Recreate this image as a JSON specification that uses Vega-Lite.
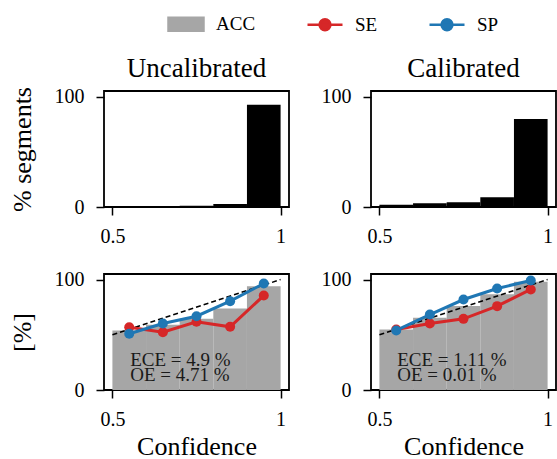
{
  "$schema": "https://vega.github.io/schema/vega-lite/v6.json",
  "padding": {"left": 8, "top": 5, "right": 0, "bottom": 0},
  "datasets": {
    "hist": [
      {"panel": "Uncalibrated", "x": 0.5, "x2": 0.6, "y": 0.7},
      {"panel": "Uncalibrated", "x": 0.6, "x2": 0.7, "y": 0.9},
      {"panel": "Uncalibrated", "x": 0.7, "x2": 0.8, "y": 1.1},
      {"panel": "Uncalibrated", "x": 0.8, "x2": 0.9, "y": 2.7},
      {"panel": "Uncalibrated", "x": 0.9, "x2": 1.0, "y": 92.6},
      {"panel": "Calibrated", "x": 0.5, "x2": 0.6, "y": 2.1},
      {"panel": "Calibrated", "x": 0.6, "x2": 0.7, "y": 3.3},
      {"panel": "Calibrated", "x": 0.7, "x2": 0.8, "y": 4.2},
      {"panel": "Calibrated", "x": 0.8, "x2": 0.9, "y": 8.8},
      {"panel": "Calibrated", "x": 0.9, "x2": 1.0, "y": 79.7}
    ],
    "acc": [
      {"panel": "Uncalibrated", "series": "ACC", "x": 0.5, "x2": 0.6, "y": 53.9},
      {"panel": "Uncalibrated", "series": "ACC", "x": 0.6, "x2": 0.7, "y": 59.0},
      {"panel": "Uncalibrated", "series": "ACC", "x": 0.7, "x2": 0.8, "y": 64.4},
      {"panel": "Uncalibrated", "series": "ACC", "x": 0.8, "x2": 0.9, "y": 73.8},
      {"panel": "Uncalibrated", "series": "ACC", "x": 0.9, "x2": 1.0, "y": 94.0},
      {"panel": "Calibrated", "series": "ACC", "x": 0.5, "x2": 0.6, "y": 54.7},
      {"panel": "Calibrated", "series": "ACC", "x": 0.6, "x2": 0.7, "y": 65.3},
      {"panel": "Calibrated", "series": "ACC", "x": 0.7, "x2": 0.8, "y": 76.0},
      {"panel": "Calibrated", "series": "ACC", "x": 0.8, "x2": 0.9, "y": 86.6},
      {"panel": "Calibrated", "series": "ACC", "x": 0.9, "x2": 1.0, "y": 98.0}
    ],
    "rel": [
      {"panel": "Uncalibrated", "series": "SE", "x": 0.55, "y": 56.8},
      {"panel": "Uncalibrated", "series": "SE", "x": 0.65, "y": 52.3},
      {"panel": "Uncalibrated", "series": "SE", "x": 0.75, "y": 61.7},
      {"panel": "Uncalibrated", "series": "SE", "x": 0.85, "y": 57.2},
      {"panel": "Uncalibrated", "series": "SE", "x": 0.95, "y": 85.5},
      {"panel": "Uncalibrated", "series": "SP", "x": 0.55, "y": 50.9},
      {"panel": "Uncalibrated", "series": "SP", "x": 0.65, "y": 60.2},
      {"panel": "Uncalibrated", "series": "SP", "x": 0.75, "y": 66.8},
      {"panel": "Uncalibrated", "series": "SP", "x": 0.85, "y": 80.4},
      {"panel": "Uncalibrated", "series": "SP", "x": 0.95, "y": 96.4},
      {"panel": "Calibrated", "series": "SE", "x": 0.55, "y": 54.8},
      {"panel": "Calibrated", "series": "SE", "x": 0.65, "y": 60.2},
      {"panel": "Calibrated", "series": "SE", "x": 0.75, "y": 64.4},
      {"panel": "Calibrated", "series": "SE", "x": 0.85, "y": 75.9},
      {"panel": "Calibrated", "series": "SE", "x": 0.95, "y": 91.0},
      {"panel": "Calibrated", "series": "SP", "x": 0.55, "y": 53.9},
      {"panel": "Calibrated", "series": "SP", "x": 0.65, "y": 68.3},
      {"panel": "Calibrated", "series": "SP", "x": 0.75, "y": 81.9},
      {"panel": "Calibrated", "series": "SP", "x": 0.85, "y": 91.9},
      {"panel": "Calibrated", "series": "SP", "x": 0.95, "y": 99.1}
    ],
    "diag": [
      {"x": 0.5, "y": 50},
      {"x": 1.0, "y": 100}
    ],
    "notes": [
      {"panel": "Uncalibrated", "x": 0.553, "y": 21.5, "text": ["ECE = 4.9 %", "OE = 4.71 %"]},
      {"panel": "Calibrated", "x": 0.553, "y": 21.5, "text": ["ECE = 1.11 %", "OE = 0.01 %"]}
    ]
  },
  "columns": 2,
  "spacing": {"row": 21, "column": 30},
  "resolve": {"scale": {"color": "shared"}, "legend": {"color": "shared"}},
  "concat": [
    {
      "width": 185, "height": 116,
      "title": "Uncalibrated",
      "data": {"name": "hist"},
      "transform": [{"filter": "datum.panel === 'Uncalibrated'"}],
      "mark": {"type": "bar", "color": "black"},
      "encoding": {
        "x": {"field": "x", "type": "quantitative", "scale": {"domain": [0.475, 1.025], "nice": false, "zero": false, "padding": 0}, "axis": {"values": [0.5, 1], "format": "~g", "title": null, "labelPadding": 11}},
        "x2": {"field": "x2"},
        "y": {"field": "y", "type": "quantitative", "scale": {"domain": [0, 105], "nice": false, "padding": 0}, "axis": {"values": [0, 100], "title": "% segments", "labelPadding": 12, "titlePadding": 19}},
        "y2": {"datum": 0}
      }
    },
    {
      "width": 185, "height": 116,
      "title": "Calibrated",
      "data": {"name": "hist"},
      "transform": [{"filter": "datum.panel === 'Calibrated'"}],
      "mark": {"type": "bar", "color": "black"},
      "encoding": {
        "x": {"field": "x", "type": "quantitative", "scale": {"domain": [0.475, 1.025], "nice": false, "zero": false, "padding": 0}, "axis": {"values": [0.5, 1], "format": "~g", "title": null, "labelPadding": 11}},
        "x2": {"field": "x2"},
        "y": {"field": "y", "type": "quantitative", "scale": {"domain": [0, 105], "nice": false, "padding": 0}, "axis": {"values": [0, 100], "title": null, "labelPadding": 12}},
        "y2": {"datum": 0}
      }
    },
    {
      "width": 185, "height": 116,
      "encoding": {
        "x": {"field": "x", "type": "quantitative", "scale": {"domain": [0.475, 1.025], "nice": false, "zero": false, "padding": 0}, "axis": {"values": [0.5, 1], "format": "~g", "title": "Confidence", "labelPadding": 11, "titlePadding": 4}},
        "y": {"field": "y", "type": "quantitative", "scale": {"domain": [0, 105], "nice": false, "padding": 0}, "axis": {"values": [0, 100], "title": "[%]", "labelPadding": 12, "titlePadding": 19}}
      },
      "layer": [
        {
          "data": {"name": "acc"},
          "transform": [{"filter": "datum.panel === 'Uncalibrated'"}],
          "mark": {"type": "bar"},
          "encoding": {
            "x2": {"field": "x2"},
            "y2": {"datum": 0},
            "color": {"field": "series", "type": "nominal", "scale": {"domain": ["ACC", "SE", "SP"], "range": ["#a6a6a6", "#d62728", "#1f77b4"]},
              "legend": {"orient": "none", "legendX": 63, "legendY": -86, "direction": "horizontal", "title": null,
                "symbolSize": 1225, "labelFontSize": 19, "labelOffset": 11, "columnPadding": 46, "labelFont": "Liberation Serif", "labelColor": "black",
                "encode": {"symbols": {"update": {
                  "shape": {"signal": "datum.value === 'ACC' ? 'M-1,-0.37H1V0.37H-1Z' : 'M-1,0H1M0.31,0A0.31,0.31,0,1,1,-0.31,0A0.31,0.31,0,1,1,0.31,0'"},
                  "fill": {"signal": "datum.value === 'ACC' ? '#a6a6a6' : datum.value === 'SE' ? '#d62728' : '#1f77b4'"},
                  "stroke": {"signal": "datum.value === 'ACC' ? 'transparent' : datum.value === 'SE' ? '#d62728' : '#1f77b4'"},
                  "strokeWidth": {"value": 2.5},
                  "opacity": {"value": 1},
                  "fillOpacity": {"value": 1},
                  "strokeOpacity": {"value": 1}
                }}}}}
          }
        },
        {
          "data": {"name": "diag"},
          "mark": {"type": "line", "color": "black", "strokeDash": [5, 3], "strokeWidth": 1.5},
          "encoding": {}
        },
        {
          "data": {"name": "rel"},
          "transform": [{"filter": "datum.panel === 'Uncalibrated' && datum.series === 'SE'"}],
          "mark": {"type": "line", "strokeWidth": 3},
          "encoding": {"color": {"field": "series", "type": "nominal", "legend": null}}
        },
        {
          "data": {"name": "rel"},
          "transform": [{"filter": "datum.panel === 'Uncalibrated' && datum.series === 'SE'"}],
          "mark": {"type": "point", "filled": true, "size": 100, "opacity": 1},
          "encoding": {"color": {"field": "series", "type": "nominal", "legend": null}}
        },
        {
          "data": {"name": "rel"},
          "transform": [{"filter": "datum.panel === 'Uncalibrated' && datum.series === 'SP'"}],
          "mark": {"type": "line", "strokeWidth": 3},
          "encoding": {"color": {"field": "series", "type": "nominal", "legend": null}}
        },
        {
          "data": {"name": "rel"},
          "transform": [{"filter": "datum.panel === 'Uncalibrated' && datum.series === 'SP'"}],
          "mark": {"type": "point", "filled": true, "size": 100, "opacity": 1},
          "encoding": {"color": {"field": "series", "type": "nominal", "legend": null}}
        },
        {
          "data": {"name": "notes"},
          "transform": [{"filter": "datum.panel === 'Uncalibrated'"}],
          "mark": {"type": "text", "align": "left", "baseline": "alphabetic", "fontSize": 19, "lineHeight": 15, "font": "Liberation Serif", "color": "#1a1a1a"},
          "encoding": {"text": {"field": "text"}}
        }
      ]
    },
    {
      "width": 185, "height": 116,
      "encoding": {
        "x": {"field": "x", "type": "quantitative", "scale": {"domain": [0.475, 1.025], "nice": false, "zero": false, "padding": 0}, "axis": {"values": [0.5, 1], "format": "~g", "title": "Confidence", "labelPadding": 11, "titlePadding": 4}},
        "y": {"field": "y", "type": "quantitative", "scale": {"domain": [0, 105], "nice": false, "padding": 0}, "axis": {"values": [0, 100], "title": null, "labelPadding": 12}}
      },
      "layer": [
        {
          "data": {"name": "acc"},
          "transform": [{"filter": "datum.panel === 'Calibrated'"}],
          "mark": {"type": "bar"},
          "encoding": {
            "x2": {"field": "x2"},
            "y2": {"datum": 0},
            "color": {"field": "series", "type": "nominal", "legend": null}
          }
        },
        {
          "data": {"name": "diag"},
          "mark": {"type": "line", "color": "black", "strokeDash": [5, 3], "strokeWidth": 1.5},
          "encoding": {}
        },
        {
          "data": {"name": "rel"},
          "transform": [{"filter": "datum.panel === 'Calibrated' && datum.series === 'SE'"}],
          "mark": {"type": "line", "strokeWidth": 3},
          "encoding": {"color": {"field": "series", "type": "nominal", "legend": null}}
        },
        {
          "data": {"name": "rel"},
          "transform": [{"filter": "datum.panel === 'Calibrated' && datum.series === 'SE'"}],
          "mark": {"type": "point", "filled": true, "size": 100, "opacity": 1},
          "encoding": {"color": {"field": "series", "type": "nominal", "legend": null}}
        },
        {
          "data": {"name": "rel"},
          "transform": [{"filter": "datum.panel === 'Calibrated' && datum.series === 'SP'"}],
          "mark": {"type": "line", "strokeWidth": 3},
          "encoding": {"color": {"field": "series", "type": "nominal", "legend": null}}
        },
        {
          "data": {"name": "rel"},
          "transform": [{"filter": "datum.panel === 'Calibrated' && datum.series === 'SP'"}],
          "mark": {"type": "point", "filled": true, "size": 100, "opacity": 1},
          "encoding": {"color": {"field": "series", "type": "nominal", "legend": null}}
        },
        {
          "data": {"name": "notes"},
          "transform": [{"filter": "datum.panel === 'Calibrated'"}],
          "mark": {"type": "text", "align": "left", "baseline": "alphabetic", "fontSize": 19, "lineHeight": 15, "font": "Liberation Serif", "color": "#1a1a1a"},
          "encoding": {"text": {"field": "text"}}
        }
      ]
    }
  ],
  "config": {
    "font": "Liberation Serif",
    "view": {"stroke": "black", "strokeWidth": 1.8},
    "scale": {"continuousPadding": 0},
    "axis": {"domain": false, "grid": false, "tickColor": "black", "tickWidth": 1.5, "tickSize": 8,
      "labelFontSize": 20, "labelColor": "black", "labelFont": "Liberation Serif", "labelFlush": false, "labelOverlap": false,
      "titleFont": "Liberation Serif", "titleFontSize": 26, "titleFontWeight": "normal", "titleColor": "black"},
    "title": {"font": "Liberation Serif", "fontSize": 27, "fontWeight": "normal", "color": "black", "frame": "group", "offset": 4, "anchor": "middle"}
  }
}
